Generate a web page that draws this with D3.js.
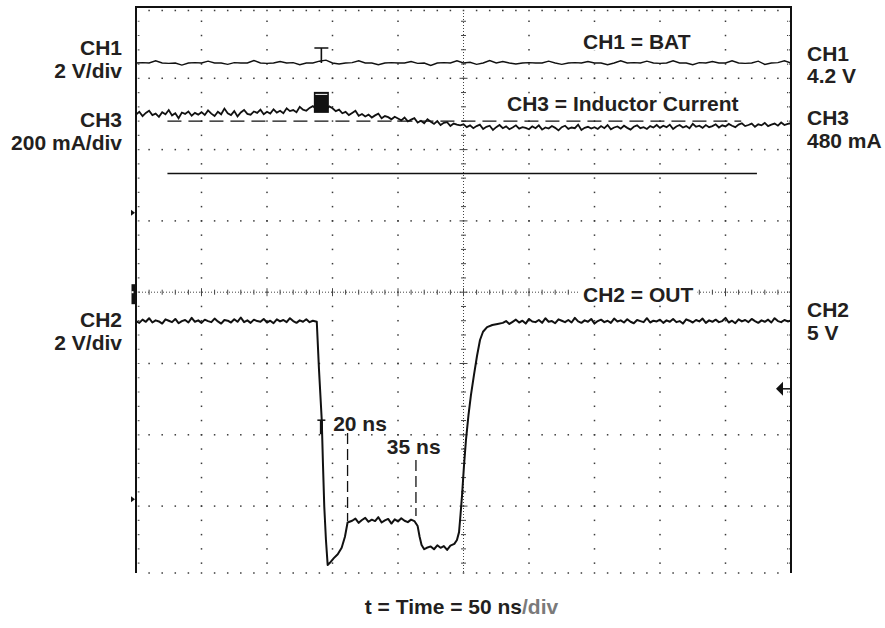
<!DOCTYPE html>
<html>
<head>
<meta charset="utf-8">
<script src="https://cdn.jsdelivr.net/npm/d3@7"></script>
<style>
  html, body { margin: 0; padding: 0; background: #fff; }
  svg { display: block; }
  text { font-family: "Liberation Sans", Arial, Helvetica, sans-serif; font-weight: bold; fill: #231f20; }
</style>
</head>
<body>
<svg id="chart" width="885" height="628"></svg>
<script>
// ---------------- DATA ----------------
// Time base: 50 ns/div, 10 divisions
const timeDomainNs = [0, 500];

// CH1 = BAT (V), 2 V/div, sampled every 5 ns
const ch1StepNs = 5;
const ch1Volts = [4.20,4.21,4.20,4.26,4.20,4.19,4.20,4.14,4.20,4.21,
  4.20,4.25,4.20,4.20,4.16,4.21,4.20,4.20,4.27,4.20,
  4.19,4.20,4.24,4.20,4.21,4.15,4.20,4.20,4.25,4.28,
  4.20,4.17,4.20,4.21,4.26,4.20,4.20,4.15,4.20,4.21,
  4.20,4.20,4.24,4.19,4.20,4.13,4.20,4.21,4.20,4.26,
  4.20,4.22,4.16,4.20,4.27,4.20,4.24,4.20,4.17,4.20,
  4.21,4.20,4.20,4.25,4.20,4.16,4.20,4.21,4.20,4.24,
  4.20,4.20,4.15,4.20,4.26,4.20,4.21,4.20,4.25,4.20,
  4.19,4.20,4.26,4.20,4.20,4.15,4.21,4.20,4.24,4.20,
  4.20,4.26,4.20,4.19,4.20,4.25,4.16,4.20,4.21,4.26,
  4.20];

// CH3 = Inductor Current (mA), 200 mA/div, sampled every 2.5 ns
const ch3StepNs = 2.5;
const ch3MilliAmps = [
  498,506,494,503,509,497,501,492,505,499,511,496,502,488,504,500,507,495,503,498,
  505,497,510,501,494,506,499,515,502,497,508,493,504,511,500,498,507,503,512,499,
  506,501,513,504,509,502,516,508,511,505,520,512,509,517,522,514,519,526,513,521,
  516,508,512,502,506,497,503,509,495,500,493,498,490,496,501,488,494,491,485,492,
  487,482,490,479,484,488,476,481,474,485,478,472,480,469,475,477,466,473,470,468,
  471,463,468,460,466,470,458,464,467,455,463,469,460,465,457,462,468,459,463,461,
  457,465,460,468,456,462,459,466,461,454,463,467,458,462,460,470,455,461,464,459,
  463,458,466,460,469,457,462,465,459,467,461,456,464,468,460,463,458,466,462,469,
  461,467,463,470,458,465,469,462,466,460,472,464,467,461,469,463,466,471,462,468,
  465,472,467,463,470,474,466,469,473,464,471,468,475,466,470,473,467,476,469,472,
  474];

// CH2 = OUT (V), 2 V/div — noisy flat parts sampled every 2.5 ns, edges explicit
const ch2StepNs = 2.5;
const ch2HighStart = 0;
const ch2HighVolts = [5.00,4.95,5.04,4.98,5.08,4.96,5.02,4.99,4.93,5.05,
  5.01,4.97,5.06,4.94,5.00,5.03,4.96,5.09,4.98,5.02,
  4.95,5.04,5.00,4.97,5.07,4.99,4.93,5.03,5.01,4.96,
  5.05,4.98,5.10,4.97,5.02,4.95,5.04,5.00,4.98,5.06,
  4.96,5.01,4.94,5.05,4.99,5.03,4.97,5.08,5.00,4.95,
  5.02,4.98,5.05,4.97,5.01];
const ch2FallTimes = [138,139.7,141.8,142.7,143.7,145,146.3,148,151,154,157,159.5,161.5];
const ch2FallVolts = [4.98,3.63,2.22,1.02,-0.19,-1.14,-1.84,-1.78,-1.65,-1.54,-1.36,-1.05,-0.65];
const ch2Low1Start = 165;
const ch2Low1Volts = [-0.60,-0.54,-0.66,-0.58,-0.52,-0.63,-0.57,-0.61,-0.50,-0.65,
  -0.59,-0.55,-0.68,-0.56,-0.62,-0.53,-0.60,-0.64,-0.57,-0.61];
const ch2DropTimes = [215,216.5,218,220,222];
const ch2DropVolts = [-0.75,-1.05,-1.28,-1.40,-1.36];
const ch2Low2Start = 225;
const ch2Low2Volts = [-1.32,-1.40,-1.29,-1.36,-1.31,-1.42,-1.30];
const ch2RiseTimes = [243,245,246.6,247.7,248.9,250.4,251.9,253.8,255.7,258,260.3,262.6,264.9,268,272,276];
const ch2RiseVolts = [-1.25,-1.14,-0.92,-0.44,0.12,0.96,1.67,2.36,2.93,3.49,4.02,4.47,4.70,4.83,4.89,4.92];
const ch2AfterStart = 280;
const ch2AfterVolts = [4.95,5.00,4.92,4.98,5.04,4.96,5.01,4.93,5.06,4.99,
  4.97,5.03,4.95,5.08,4.98,5.00,4.94,5.05,5.01,4.97,
  5.03,4.96,5.09,4.99,4.95,5.02,4.98,5.06,4.93,5.00,
  5.04,4.97,5.01,4.95,5.07,4.99,5.02,4.96,5.05,4.98,
  4.94,5.03,5.00,4.97,5.08,4.96,5.01,4.99,5.04,4.95,
  5.02,4.98,5.06,4.97,5.00,4.93,5.05,5.01,4.96,5.03,
  4.99,5.07,4.95,5.02,4.98,5.04,4.97,5.00,5.09,4.96,
  5.01,4.94,5.05,4.99,5.03,4.97,5.06,5.00,4.95,5.02,
  4.98,5.04,4.96,5.08,5.00,4.97,5.03,4.99,5.02];

// Channel settings
const ch1VoltsPerDiv = 2, ch2VoltsPerDiv = 2, ch3MilliAmpsPerDiv = 200;
const ch1ZeroDiv = 1.115;   // CH1 ground marker, divisions above screen centre
const ch2ZeroDiv = -2.905;  // CH2 ground marker
const ch3ZeroDiv = 0;       // CH3 ground marker
const ch2TriggerLevel = 3.1; // V

// Annotations
const ch3RefLine = { t0: 24, t1: 462, mA: 480 };      // dashed reference
const solidRefLine = { t0: 24, t1: 474, div: 1.665 }; // solid horizontal line (div above centre)
const timingMarkers = [
  { t: 161.5, v0: 1.86, v1: -0.61, label: "20 ns", lt: 150.5, lv: 1.92 },
  { t: 213.7, v0: 1.10, v1: -0.47, label: "35 ns", lt: 191.5, lv: 1.26 }
];
const trigTime = 141.5;

// Text labels
const leftLabels = [["CH1", "2 V/div"], ["CH3", "200 mA/div"], ["CH2", "2 V/div"]];
const rightLabels = [["CH1", "4.2 V"], ["CH3", "480 mA"], ["CH2", "5 V"]];
const traceTitles = ["CH1 = BAT", "CH3 = Inductor Current", "CH2 = OUT"];
const xAxisTitle = ["t = Time = 50 ns", "/div"];

// ---------------- LAYOUT ----------------
const svg = d3.select("#chart");
const L = 136, R = 791, T = 7, B = 573;
const x = d3.scaleLinear().domain(timeDomainNs).range([L, R]);
const yDiv = d3.scaleLinear().domain([4, -4]).range([T, 577.4]);
const yCh1 = v => yDiv(ch1ZeroDiv + v / ch1VoltsPerDiv);
const yCh2 = v => yDiv(ch2ZeroDiv + v / ch2VoltsPerDiv);
const yCh3 = mA => yDiv(ch3ZeroDiv + mA / ch3MilliAmpsPerDiv);
const divNs = 50;
const xc = x(250), yc = yDiv(0);

svg.append("defs").append("clipPath").attr("id", "plotclip")
  .append("rect").attr("x", L).attr("y", T).attr("width", R - L).attr("height", B - T);

const grid = svg.append("g");
const dotColor = "#3a3a3a";
function dot(px, py) {
  grid.append("rect").attr("x", px - 0.75).attr("y", py - 0.75).attr("width", 1.5).attr("height", 1.5).attr("fill", dotColor);
}
for (let k = 1; k <= 9; k++) {
  if (k === 5) continue;
  const px = x(k * divNs);
  for (let m = 0; m <= 40; m++) {
    const py = yDiv(4 - m / 5);
    if (py > B + 0.5 || py < T + 2) continue;
    dot(px, py);
  }
}
for (let j = 1; j <= 7; j++) {
  if (j === 4) continue;
  const py = yDiv(4 - j);
  for (let n = 1; n < 50; n++) dot(x(n * divNs / 5), py);
}
for (let n = 1; n < 50; n++) dot(x(n * divNs / 5), B);
for (let n = 1; n < 50; n++) dot(x(n * divNs / 5), T + 3.5);
for (let m = 1; m < 40; m++) {
  const py = yDiv(4 - m / 5);
  if (py > B) continue;
  grid.append("line").attr("x1", L).attr("x2", L + 4).attr("y1", py).attr("y2", py).attr("stroke", dotColor).attr("stroke-width", 1.2).attr("stroke-dasharray", "1.2,1");
  grid.append("line").attr("x1", R - 4).attr("x2", R).attr("y1", py).attr("y2", py).attr("stroke", dotColor).attr("stroke-width", 1.2).attr("stroke-dasharray", "1.2,1");
}
grid.append("line").attr("x1", L).attr("x2", R).attr("y1", yc).attr("y2", yc)
  .attr("stroke", "#444").attr("stroke-width", 1).attr("stroke-dasharray", "1,2");
grid.append("line").attr("x1", xc).attr("x2", xc).attr("y1", T).attr("y2", B)
  .attr("stroke", "#444").attr("stroke-width", 1).attr("stroke-dasharray", "1,2");
for (let n = 1; n < 50; n++) {
  const px = x(n * divNs / 5), h = (n % 5 === 0) ? 4 : 2.5;
  grid.append("line").attr("x1", px).attr("x2", px).attr("y1", yc - h).attr("y2", yc + h).attr("stroke", "#444").attr("stroke-width", 1);
}
for (let m = 1; m < 40; m++) {
  const py = yDiv(4 - m / 5), h = (m % 5 === 0) ? 4 : 2.5;
  if (py > B) continue;
  grid.append("line").attr("x1", xc - h).attr("x2", xc + h).attr("y1", py).attr("y2", py).attr("stroke", "#444").attr("stroke-width", 1);
}
grid.append("path").attr("d", `M${L},${B}V${T}H${R}V${B}`).attr("fill", "none").attr("stroke", "#111").attr("stroke-width", 2);

// ---------------- TRACES ----------------
const traces = svg.append("g").attr("clip-path", "url(#plotclip)");
const uniform = (vals, t0, step, f) => vals.map((v, i) => ({ t: t0 + i * step, y: f(v) }));
const paired = (ts, vals, f) => vals.map((v, i) => ({ t: ts[i], y: f(v) }));
const ch1Data = uniform(ch1Volts, 0, ch1StepNs, yCh1);
const ch3Data = uniform(ch3MilliAmps, 0, ch3StepNs, yCh3);
const ch2Data = [].concat(
  uniform(ch2HighVolts, ch2HighStart, ch2StepNs, yCh2),
  paired(ch2FallTimes, ch2FallVolts, yCh2),
  uniform(ch2Low1Volts, ch2Low1Start, ch2StepNs, yCh2),
  paired(ch2DropTimes, ch2DropVolts, yCh2),
  uniform(ch2Low2Volts, ch2Low2Start, ch2StepNs, yCh2),
  paired(ch2RiseTimes, ch2RiseVolts, yCh2),
  uniform(ch2AfterVolts, ch2AfterStart, ch2StepNs, yCh2)
);
const line = d3.line().x(d => x(d.t)).y(d => d.y);

traces.append("line").attr("x1", x(ch3RefLine.t0)).attr("x2", x(ch3RefLine.t1))
  .attr("y1", yCh3(ch3RefLine.mA)).attr("y2", yCh3(ch3RefLine.mA))
  .attr("stroke", "#111").attr("stroke-width", 1.3).attr("stroke-dasharray", "14,7");
traces.append("line").attr("x1", x(solidRefLine.t0)).attr("x2", x(solidRefLine.t1))
  .attr("y1", yDiv(solidRefLine.div)).attr("y2", yDiv(solidRefLine.div))
  .attr("stroke", "#111").attr("stroke-width", 1.6);
timingMarkers.forEach(m => {
  traces.append("line").attr("x1", x(m.t)).attr("x2", x(m.t)).attr("y1", yCh2(m.v0)).attr("y2", yCh2(m.v1))
    .attr("stroke", "#111").attr("stroke-width", 1.3).attr("stroke-dasharray", "11,5");
});

traces.append("path").datum(ch1Data).attr("d", line).attr("fill", "none").attr("stroke", "#111").attr("stroke-width", 1.4);
traces.append("path").datum(ch3Data).attr("d", line).attr("fill", "none").attr("stroke", "#111").attr("stroke-width", 1.8);
traces.append("path").datum(ch2Data).attr("d", line).attr("fill", "none").attr("stroke", "#111").attr("stroke-width", 2).attr("stroke-linejoin", "round");

// Trigger markers
const tx = x(trigTime);
const y1 = yCh1(4.2);
svg.append("path").attr("d", `M${tx - 7},${y1 - 15}H${tx + 7}M${tx},${y1 - 15}V${y1}`).attr("stroke", "#111").attr("stroke-width", 1.6).attr("fill", "none");
const y3 = yCh3(503);
svg.append("rect").attr("x", tx - 7.5).attr("y", y3 - 21).attr("width", 15).attr("height", 21).attr("fill", "#111");
svg.append("path").attr("d", `M${tx - 6},${y3 - 18.5}H${tx + 6}`).attr("stroke", "#fff").attr("stroke-width", 1);
const y2 = yCh2(2.22);
svg.append("path").attr("d", `M${tx - 4},${y2}H${tx + 4}`).attr("stroke", "#111").attr("stroke-width", 1.5);
svg.append("rect").attr("x", tx - 1.5).attr("y", y2).attr("width", 3).attr("height", 14).attr("fill", "#111");

// Ground markers on left edge
[yDiv(ch1ZeroDiv), yDiv(ch2ZeroDiv)].forEach(py => {
  svg.append("path").attr("d", `M${L - 5},${py - 3}L${L - 1},${py}L${L - 5},${py + 3}Z`).attr("fill", "#111");
});
svg.append("rect").attr("x", L - 4.5).attr("y", yDiv(ch3ZeroDiv) - 8).attr("width", 5).attr("height", 20).attr("fill", "#111");
svg.append("rect").attr("x", L - 4.5).attr("y", yDiv(ch3ZeroDiv) - 1).attr("width", 2).attr("height", 2).attr("fill", "#fff");

// Trigger level arrow on right edge
const ta = yCh2(ch2TriggerLevel);
svg.append("path").attr("d", `M${R - 15},${ta}L${R - 8},${ta - 7}V${ta + 7}Z`).attr("fill", "#111");
svg.append("line").attr("x1", R - 9).attr("x2", R).attr("y1", ta).attr("y2", ta).attr("stroke", "#111").attr("stroke-width", 1.5);

// ---------------- TEXT ----------------
const fs = 21;
function boxedText(str, px, py, anchor) {
  const g = svg.append("g");
  const r = g.append("rect").attr("fill", "#fff");
  const t = g.append("text").attr("x", px).attr("y", py).attr("font-size", fs).attr("text-anchor", anchor || "start").text(str);
  const bb = t.node().getBBox();
  r.attr("x", bb.x - 4).attr("y", bb.y + 2).attr("width", bb.width + 8).attr("height", bb.height - 4);
  return g;
}
const leftY = [[55, 78], [127, 150], [327, 350]];
leftLabels.forEach((pair, i) => {
  pair.forEach((s, k) => svg.append("text").attr("x", 122).attr("y", leftY[i][k]).attr("font-size", fs).attr("text-anchor", "end").text(s));
});
const rightY = [[61, 83], [125, 148], [317, 340]];
rightLabels.forEach((pair, i) => {
  pair.forEach((s, k) => svg.append("text").attr("x", 807).attr("y", rightY[i][k]).attr("font-size", fs).text(s));
});
boxedText(traceTitles[0], 583, 48.5);
boxedText(traceTitles[1], 507, 111);
boxedText(traceTitles[2], 583, 301.5);
timingMarkers.forEach(m => boxedText(m.label, x(m.lt), yCh2(m.lv)));

const xt = svg.append("text").attr("x", xc - 2).attr("y", 614).attr("font-size", fs).attr("text-anchor", "middle");
xt.append("tspan").text(xAxisTitle[0]);
xt.append("tspan").style("fill", "#7a7a7a").text(xAxisTitle[1]);
</script>
</body>
</html>
